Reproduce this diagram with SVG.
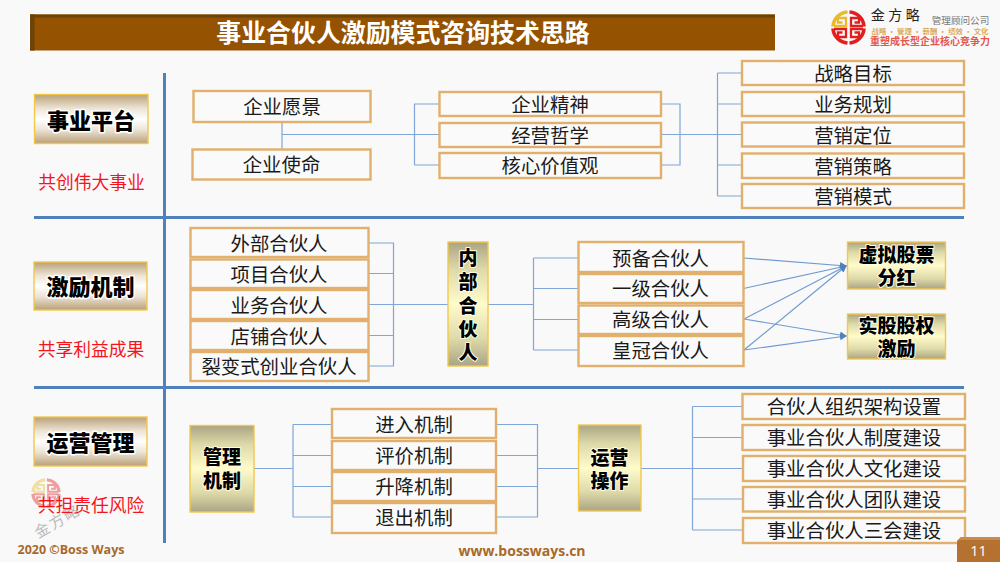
<svg xmlns="http://www.w3.org/2000/svg" xmlns:xlink="http://www.w3.org/1999/xlink" width="1000" height="562" viewBox="0 0 1000 562">
<style>
text{font-family:"Noto Sans CJK SC","Noto Sans",sans-serif;text-anchor:middle;dominant-baseline:central}
.box rect{fill:#fafafa;stroke:#e0b06c;stroke-width:2.4}
.box text{font-size:19.4px;fill:#1a1a1a}
.side rect{fill:url(#silver);stroke:#f2c84b;stroke-width:1.4}
.side text{font-size:22px;font-weight:900;fill:#000;stroke:#fff;stroke-width:3px;paint-order:stroke;stroke-linejoin:round}
.olive rect{fill:url(#olive);stroke:#f2c84b;stroke-width:1.4}
.olive text{font-size:19px;font-weight:900;fill:#000;stroke:#fffde0;stroke-width:2px;paint-order:stroke;stroke-linejoin:round}
.red{font-size:17.8px;fill:#f5141e}
.rule{stroke:#4f81bd;stroke-width:3;fill:none}
#connectors path{fill:none;stroke:#7fa6d6;stroke-width:1.2}
#connectors .arr{stroke:#6f9ad0;marker-end:url(#ah)}
.foot{font-family:"Open Sans","Noto Sans",sans-serif;font-weight:700;fill:#a8692a}
</style>
<defs>
<linearGradient id="silver" x1="0" y1="0" x2="0" y2="1">
<stop offset="0" stop-color="#b9a078"/><stop offset=".28" stop-color="#ece3d4"/><stop offset=".5" stop-color="#ffffff"/><stop offset=".72" stop-color="#ece3d4"/><stop offset="1" stop-color="#b9a078"/>
</linearGradient>
<linearGradient id="olive" x1="0" y1="0" x2="0" y2="1">
<stop offset="0" stop-color="#aaa584"/><stop offset=".22" stop-color="#ded9a8"/><stop offset=".5" stop-color="#fffbcb"/><stop offset=".78" stop-color="#ded9a8"/><stop offset="1" stop-color="#aaa584"/>
</linearGradient>
<marker id="ah" markerWidth="7" markerHeight="7" refX="6" refY="3.5" orient="auto" markerUnits="userSpaceOnUse">
<path d="M0 0L7 3.5L0 7Z" fill="#4f81bd"/>
</marker>
<path id="q" d="M-14.500-1.500H-2.500V-9.500H-10.500V-5H-6" fill="none" stroke-width="2.300"/>
<g id="mark" fill="none">
<path d="M-15.500-1A15.500 15.500 0 0 1-1-15.500" stroke="#e9b92e" stroke-width="3.600"/>
<path d="M1-15.500A15.500 15.500 0 0 1 15.500-1M15.500 1A15.500 15.500 0 0 1 1 15.500M-1 15.500A15.500 15.500 0 0 1-15.500 1" stroke="#e21f1f" stroke-width="3.600"/>
<use href="#q" xlink:href="#q" stroke="#e9b92e"/>
<use href="#q" xlink:href="#q" stroke="#e21f1f" transform="scale(-1 1)"/>
<use href="#q" xlink:href="#q" stroke="#e21f1f" transform="scale(1 -1)"/>
<use href="#q" xlink:href="#q" stroke="#e21f1f" transform="scale(-1 -1)"/>
</g>
</defs>
<rect width="1000" height="562" fill="#f9f9f9"/>

<g id="title">
<rect x="29" y="13.500" width="746.500" height="37" fill="#fff"/>
<rect x="30" y="14.500" width="745" height="36" fill="#955200"/>
<rect x="30" y="14.500" width="745" height="3" fill="#6e4308"/>
<rect x="30" y="14.500" width="4.500" height="36" fill="#6e4308"/>
<text x="403" y="31" font-size="24.900" font-weight="700" fill="#fff">事业合伙人激励模式咨询技术思路</text>
</g>

<g id="logo">
<use href="#mark" xlink:href="#mark" transform="translate(848.500 27.500)"/>
<text x="897" y="14" font-size="14" fill="#222" letter-spacing="3.500">金方略</text>
<text x="960.500" y="20" font-size="9.600" fill="#777">管理顾问公司</text>
<text x="930" y="30" font-size="7.400" fill="#d9ac5f" font-weight="700">战略 • 管理 • 薪酬 • 绩效 • 文化</text>
<text x="930" y="40.500" font-size="10" fill="#e6564f" font-weight="700">重塑成长型企业核心竞争力</text>
</g>

<g id="watermark" opacity=".42">
<use href="#mark" xlink:href="#mark" transform="translate(46 493) scale(.85)"/>
<text x="57" y="520" font-size="15" fill="#666" letter-spacing="2" transform="rotate(-30 57 520)">金方略</text>
</g>

<g id="rules">
<path class="rule" d="M164.500 73V543"/>
<path class="rule" d="M34 217.500H964"/>
<path class="rule" d="M34 387.500H964"/>
</g>

<g id="connectors">
<path d="M282 122V149.500M282 134.500H439.500M414.500 165V104H439.500M414.500 165H439.500"/>
<path d="M661 104H680V165H661M661 134.500H742M717.500 73V196M717.500 73H742M717.500 104H742M717.500 165H742M717.500 196H742"/>
<path d="M368.500 243H393.500V366H368.500M368.500 273.500H393.500M368.500 304.500H448M368.500 335.500H393.500"/>
<path d="M488 304.500H533.500M533.500 258V350M533.500 258H578.500M533.500 288.500H578.500M533.500 319.500H578.500M533.500 350H578.500"/>
<path class="arr" d="M743.500 258L846 266"/>
<path class="arr" d="M743.500 288.500L846 266"/>
<path class="arr" d="M744 319L846 266"/>
<path class="arr" d="M744 350L846 266"/>
<path class="arr" d="M744 319L846 336"/>
<path class="arr" d="M744 350L846 336"/>
<path d="M254 468.500H293M293 424.500V517M293 424.500H332M293 455.500H332M293 486.500H332M293 517H332"/>
<path d="M496 424.500H537.500V517H496M496 455.500H537.500M496 486.500H537.500M537.500 468.500H578.500"/>
<path d="M641 468.500H692.500M692.500 406.500V530M692.500 406.500H742.500M692.500 437.500H742.500M692.500 499H742.500M692.500 468.500H742.500M692.500 530H742.500"/>
</g>

<g id="n-shiye" class="side"><rect x="34.500" y="94.500" width="113.500" height="49"/><text x="91" y="118.500">事业平台</text></g>
<text id="t-gongchuang" class="red" x="91.500" y="181">共创伟大事业</text>
<g id="n-jili" class="side"><rect x="34" y="262" width="113" height="48"/><text x="90.500" y="285">激励机制</text></g>
<text id="t-gongxiang" class="red" x="91" y="348">共享利益成果</text>
<g id="n-yunying" class="side"><rect x="34" y="417" width="113" height="49"/><text x="90.500" y="440.500">运营管理</text></g>
<text id="t-gongdan" class="red" x="91" y="504">共担责任风险</text>

<g id="n1" class="box"><rect x="193.500" y="91" width="177" height="31"/><text x="282" y="105.500">企业愿景</text></g>
<g id="n2" class="box"><rect x="192.500" y="149.500" width="178" height="30"/><text x="281.500" y="163.500">企业使命</text></g>
<g id="n3" class="box"><rect x="439.500" y="92" width="221.500" height="24"/><text x="550" y="103.500">企业精神</text></g>
<g id="n4" class="box"><rect x="439.500" y="123" width="221.500" height="24"/><text x="550" y="134">经营哲学</text></g>
<g id="n5" class="box"><rect x="439.500" y="153" width="221.500" height="25"/><text x="550" y="164.500">核心价值观</text></g>
<g id="n6" class="box"><rect x="742" y="61" width="222" height="24"/><text x="853" y="72.500">战略目标</text></g>
<g id="n7" class="box"><rect x="742" y="92" width="222" height="24"/><text x="853" y="103">业务规划</text></g>
<g id="n8" class="box"><rect x="742" y="122.500" width="222" height="24"/><text x="853" y="134">营销定位</text></g>
<g id="n9" class="box"><rect x="742" y="153.500" width="222" height="24.500"/><text x="853" y="165">营销策略</text></g>
<g id="n10" class="box"><rect x="742" y="184" width="222" height="24"/><text x="853" y="195.500">营销模式</text></g>

<g id="n11" class="box"><rect x="190.500" y="228" width="178" height="29"/><text x="279" y="242.500">外部合伙人</text></g>
<g id="n12" class="box"><rect x="190.500" y="259.500" width="178" height="28.500"/><text x="279" y="273">项目合伙人</text></g>
<g id="n13" class="box"><rect x="190.500" y="290" width="178" height="29"/><text x="279" y="304">业务合伙人</text></g>
<g id="n14" class="box"><rect x="190.500" y="321" width="178" height="29"/><text x="279" y="335">店铺合伙人</text></g>
<g id="n15" class="box"><rect x="190.500" y="352" width="178" height="29"/><text x="279" y="365">裂变式创业合伙人</text></g>
<g id="n16" class="olive"><rect x="448" y="242" width="40" height="124"/><text x="468" y="256.500">内</text><text x="468" y="280.500">部</text><text x="468" y="304.500">合</text><text x="468" y="327.500">伙</text><text x="468" y="351.500">人</text></g>
<g id="n17" class="box"><rect x="578.500" y="242" width="165" height="30"/><text x="660.500" y="257">预备合伙人</text></g>
<g id="n18" class="box"><rect x="578.500" y="274" width="165" height="29"/><text x="660.500" y="287.500">一级合伙人</text></g>
<g id="n19" class="box"><rect x="578.500" y="305.500" width="165" height="28.500"/><text x="660.500" y="318.500">高级合伙人</text></g>
<g id="n20" class="box"><rect x="578.500" y="336" width="165" height="30"/><text x="660.500" y="349.500">皇冠合伙人</text></g>
<g id="n21" class="olive"><rect x="847.500" y="242" width="98" height="47"/><text x="896.500" y="253">虚拟股票</text><text x="896.500" y="276">分红</text></g>
<g id="n22" class="olive"><rect x="847.500" y="314" width="98" height="45"/><text x="896.500" y="324">实股股权</text><text x="896.500" y="347.500">激励</text></g>

<g id="n23" class="olive"><rect x="190" y="425.500" width="64" height="86.500"/><text x="222" y="455.500">管理</text><text x="222" y="479">机制</text></g>
<g id="n24" class="box"><rect x="332" y="409" width="164" height="29"/><text x="414" y="423.500">进入机制</text></g>
<g id="n25" class="box"><rect x="332" y="441" width="164" height="29"/><text x="414" y="454.500">评价机制</text></g>
<g id="n26" class="box"><rect x="332" y="472" width="164" height="29"/><text x="414" y="485.500">升降机制</text></g>
<g id="n27" class="box"><rect x="332" y="503" width="164" height="30"/><text x="414" y="516.500">退出机制</text></g>
<g id="n28" class="olive"><rect x="578.500" y="425" width="62.500" height="86"/><text x="609.500" y="456.500">运营</text><text x="609.500" y="479.500">操作</text></g>
<g id="n29" class="box"><rect x="742.500" y="394" width="222.500" height="25"/><text x="854" y="405.500">合伙人组织架构设置</text></g>
<g id="n30" class="box"><rect x="742.500" y="425" width="222.500" height="25"/><text x="854" y="436.500">事业合伙人制度建设</text></g>
<g id="n31" class="box"><rect x="743" y="456" width="222" height="25"/><text x="854" y="467.500">事业合伙人文化建设</text></g>
<g id="n32" class="box"><rect x="743" y="487" width="222" height="24.500"/><text x="854" y="498.500">事业合伙人团队建设</text></g>
<g id="n33" class="box"><rect x="743" y="518" width="222" height="25"/><text x="854" y="529.500">事业合伙人三会建设</text></g>

<g id="footer">
<text class="foot" x="71" y="549" font-size="12.500">2020 ©Boss Ways</text>
<text class="foot" x="522" y="550" font-size="14">www.bossways.cn</text>
<path d="M957 562V541L961 537H1000V562Z" fill="#b5712f"/>
<path d="M957 541L961 537H1000V540H959Z" fill="#c98a4a"/>
<text x="978.500" y="550" font-size="14.500" fill="#fff" style="font-family:'Open Sans',sans-serif">11</text>
</g>
</svg>
